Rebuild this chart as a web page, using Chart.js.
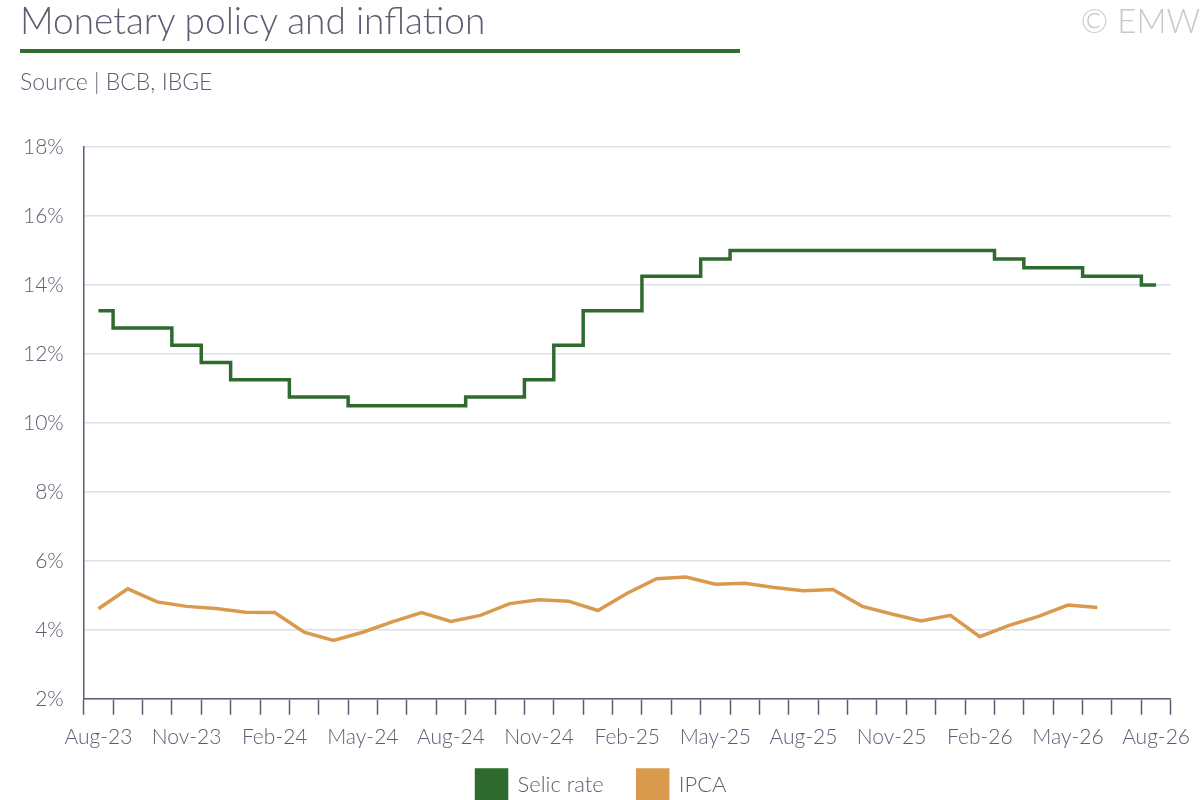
<!DOCTYPE html>
<html><head><meta charset="utf-8">
<script src="https://cdn.jsdelivr.net/npm/chart.js@4"></script>
<style>
body{margin:0;width:1200px;height:800px;overflow:hidden;background:#fff;font-family:Lato,sans-serif;}
#title{position:absolute;left:20px;top:-3px;font-size:37px;color:#5b5d72;font-weight:300;}
#rule{position:absolute;left:20px;top:49px;width:720px;height:4px;background:#2f6b2f;}
#src{position:absolute;left:20px;top:67px;font-size:23px;color:#5b5d72;font-weight:300;}
#copy{position:absolute;right:0px;top:0px;font-size:33px;color:#c8c8ce;font-weight:300;}
#wrap{position:absolute;left:0;top:0;width:1200px;height:800px;}
</style></head><body>
<div id="wrap"><canvas id="c"></canvas></div>
<div id="title">Monetary policy and inflation</div>
<div id="rule"></div>
<div id="src">Source | BCB, IBGE</div>
<div id="copy">© EMW</div>
<script>
const months = ['Aug-23','Sep-23','Oct-23','Nov-23','Dec-23','Jan-24','Feb-24','Mar-24','Apr-24','May-24','Jun-24','Jul-24',
  'Aug-24','Sep-24','Oct-24','Nov-24','Dec-24','Jan-25','Feb-25','Mar-25','Apr-25','May-25','Jun-25','Jul-25',
  'Aug-25','Sep-25','Oct-25','Nov-25','Dec-25','Jan-26','Feb-26','Mar-26','Apr-26','May-26','Jun-26','Jul-26','Aug-26'];
const selic = [13.25,12.75,12.75,12.25,11.75,11.25,11.25,10.75,10.75,10.5,10.5,10.5,10.5,10.75,10.75,11.25,12.25,13.25,13.25,
  14.25,14.25,14.75,15,15,15,15,15,15,15,15,15,14.75,14.5,14.5,14.25,14.25,14.0];
const ipca = [4.61,5.19,4.81,4.68,4.62,4.51,4.50,3.93,3.69,3.93,4.23,4.50,4.24,4.42,4.76,4.87,4.83,4.56,5.06,5.48,5.53,5.32,
  5.35,5.23,5.13,5.17,4.68,4.46,4.26,4.42,3.80,4.13,4.39,4.72,4.65,null,null];
const yTicks = [2,4,6,8,10,12,14,16,18];

const grey = '#5b5d72';
Chart.defaults.font.family = 'Lato, sans-serif';
new Chart(document.getElementById('c'), {
  type: 'line',
  data: {
    labels: months,
    datasets: [
      { label: 'Selic rate', data: selic, borderColor: '#2f6b2f', backgroundColor: '#2f6b2f', borderWidth: 3.5, stepped: 'middle', pointRadius: 0 },
      { label: 'IPCA', data: ipca, borderColor: '#d99a4e', backgroundColor: '#d99a4e', borderWidth: 3.5, tension: 0, pointRadius: 0 }
    ]
  },
  options: {
    responsive: true, maintainAspectRatio: false, animation: false,
    layout: { padding: { top: 147, right: 0, left: 3, bottom: -10 } },
    plugins: {
      legend: { position: 'bottom', labels: { color: grey, font: { size: 22, weight: 300 }, boxWidth: 30, boxHeight: 30, padding: 10,
        generateLabels: ch => Chart.defaults.plugins.legend.labels.generateLabels(ch).map((l, i) => ({ ...l, text: i === 0 ? l.text + '    ' : l.text })) } },
      tooltip: { enabled: false }
    },
    scales: {
      x: {
        offset: true,
        grid: { offset: true, drawOnChartArea: false, drawTicks: true, tickLength: 16, color: grey, tickWidth: 1.5 },
        border: { color: grey, width: 1.5 },
        ticks: { color: grey, font: { size: 21, weight: 300 }, padding: 10, maxRotation: 0, autoSkip: false,
          callback: (v, i) => i % 3 === 0 ? months[i] : '' }
      },
      y: {
        min: 2, max: 18,
        afterBuildTicks: s => { s.ticks = yTicks.map(v => ({ value: v })); },
        grid: { color: '#d8e2ea', lineWidth: 1.5, drawTicks: false },
        border: { color: grey, width: 1.5 },
        ticks: { color: grey, font: { size: 21, weight: 300 }, padding: 20, callback: v => v + '%' }
      }
    }
  }
});
</script>
</body></html>
